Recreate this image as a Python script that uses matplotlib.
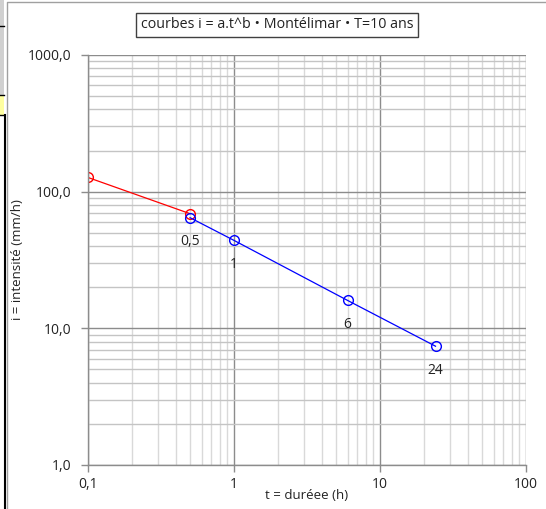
import matplotlib
matplotlib.use("Agg")
import matplotlib.pyplot as plt
from matplotlib.ticker import FixedLocator, FuncFormatter, LogLocator, NullFormatter
from matplotlib.patches import Rectangle
from matplotlib.lines import Line2D

plt.rcParams['font.family'] = ['Open Sans', 'DejaVu Sans']

# data
red_t = [0.1, 0.5]
red_i = [127.0, 69.0]
blue_t = [0.5, 1, 6, 24]
blue_i = [64.5, 44.0, 16.0, 7.4]
point_labels = ["0,5", "1", "6", "24"]
x_ticks = [0.1, 1, 10, 100]
x_ticklabels = ["0,1", "1", "10", "100"]
y_ticks = [1, 10, 100, 1000]
y_ticklabels = ["1,0", "10,0", "100,0", "1000,0"]
title = "courbes i = a.t^b • Montélimar • T=10 ans"

W, H = 546, 509
fig = plt.figure(figsize=(W/100, H/100), dpi=100)
fig.patch.set_facecolor('white')

# left spreadsheet artifacts
def px_rect(x0, y0, x1, y1, **kw):
    fig.patches.append(Rectangle((x0/W, 1-y1/H), (x1-x0)/W, (y1-y0)/H,
                                 transform=fig.transFigure, **kw))
px_rect(0, 0, 4, 95, facecolor='#d0d0d0', edgecolor='none')
px_rect(0, 95, 4, 115, facecolor='#ffffa0', edgecolor='none')
for yy in [26, 95, 115]:
    fig.lines.append(Line2D([0, 4/W], [1-yy/H, 1-yy/H], transform=fig.transFigure, color='black', lw=1))
fig.lines.append(Line2D([4.5/W, 4.5/W], [0, 1-115/H], transform=fig.transFigure, color='black', lw=1.5))
# chart border
fig.lines.append(Line2D([6.5/W, 6.5/W, 1], [0, 1-1.5/H, 1-1.5/H], transform=fig.transFigure, color='#a0a0a0', lw=1))

ax = fig.add_axes([88/W, 1-465/H, 438/W, 410/H])
ax.set_xscale('log')
ax.set_yscale('log')
ax.set_xlim(0.1, 100)
ax.set_ylim(1, 1000)

ax.xaxis.set_major_locator(FixedLocator(x_ticks))
ax.xaxis.set_major_formatter(FuncFormatter(lambda v, p: x_ticklabels[x_ticks.index(min(x_ticks, key=lambda t: abs(t-v)))]))
ax.yaxis.set_major_locator(FixedLocator(y_ticks))
ax.yaxis.set_major_formatter(FuncFormatter(lambda v, p: y_ticklabels[y_ticks.index(min(y_ticks, key=lambda t: abs(t-v)))]))
ax.xaxis.set_minor_locator(LogLocator(base=10, subs=range(2, 10)))
ax.yaxis.set_minor_locator(LogLocator(base=10, subs=range(2, 10)))
ax.xaxis.set_minor_formatter(NullFormatter())
ax.yaxis.set_minor_formatter(NullFormatter())

ax.grid(True, which='major', color='#8c8c8c', lw=1)
ax.xaxis.grid(True, which='minor', color='#d9d9d9', lw=1)
ax.yaxis.grid(True, which='minor', color='#c4c4c4', lw=1)
ax.set_axisbelow(True)

for s in ['top', 'right']:
    ax.spines[s].set_visible(False)
for s in ['left', 'bottom']:
    ax.spines[s].set_color('#8c8c8c')
    ax.spines[s].set_linewidth(1)

ax.tick_params(which='major', length=5, width=1, color='#8c8c8c', labelsize=10,
               labelcolor='#222222')
ax.tick_params(axis='x', pad=4)
ax.tick_params(axis='y', pad=7)
ax.tick_params(which='minor', length=0)

ax.plot(red_t, red_i, color='#ff0000', lw=0.9, marker='o', ms=7, mfc='none', mec='#ff0000', mew=1)
ax.plot(blue_t, blue_i, color='#0000ff', lw=0.9, marker='o', ms=7, mfc='none', mec='#0000ff', mew=1)

for t, i, lab in zip(blue_t, blue_i, point_labels):
    ax.annotate(lab, (t, i), xytext=(0, -12), textcoords='offset points',
                ha='center', va='top', fontsize=10, color='#222222')

ax.set_xlabel("t = duréee (h)", fontsize=9.5, color='#222222')
ax.xaxis.set_label_coords(0.5, -0.058)
ax.set_ylabel("i = intensité (mm/h)", fontsize=9.5, color='#222222')
ax.yaxis.set_label_coords(-0.16, 0.5)
ax.yaxis.label.set_va('center')

fig.text(277/W, 1-25/H, title, ha='center', va='center', fontsize=10.3, color='#222222',
         bbox=dict(boxstyle='square,pad=0.3', facecolor='white', edgecolor='#404040', lw=1))

fig.savefig("out.png", dpi=100)
